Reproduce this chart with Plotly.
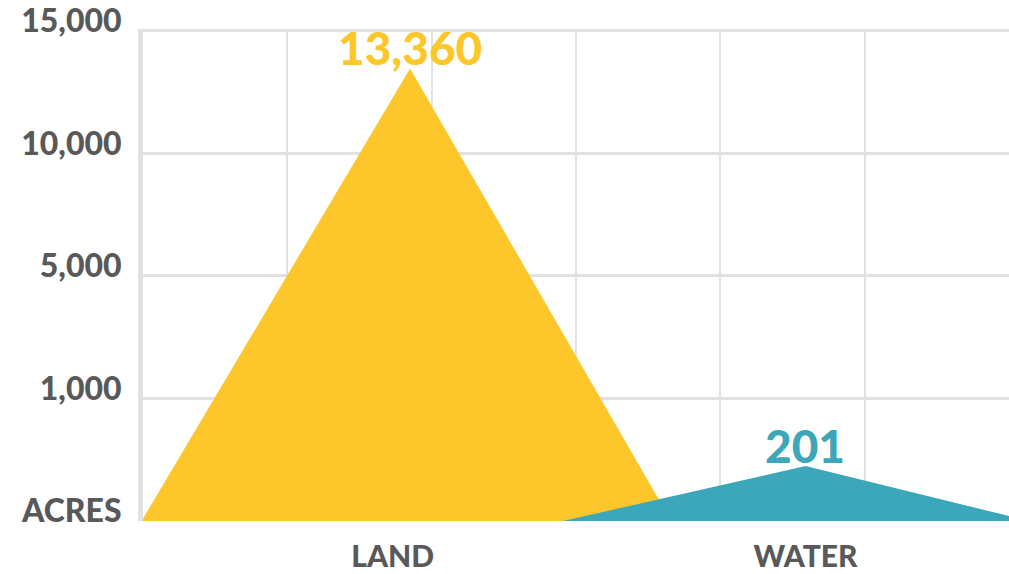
import numpy as np
import plotly.graph_objects as go

# --- data ---
categories = ["LAND", "WATER"]
acres = [13360, 201]
y_tick_values = [0, 1000, 5000, 10000, 15000]
y_tick_labels = ["ACRES", "1,000", "5,000", "10,000", "15,000"]

# --- styling / geometry ---
fill_colors = ["#FDC72B", "#3CA6BA"]
peak_x = [1.85, 4.59]                       # apex position of each triangle (x units)
half_width = [(1.86, 1.81), (1.68, 1.55)]   # (left, right) half-widths
label_x = [1.73, 4.59]                      # category label positions
text_color = "#595959"
grid_color = "#E1E1E1"
FONT = "Lato"

# evenly spaced ticks; between ticks values are interpolated on a square-root scale
_tick_pos = np.arange(len(y_tick_values), dtype=float)
_tick_sqrt = np.sqrt(np.array(y_tick_values, dtype=float))


def to_axis(v):
    return float(np.interp(np.sqrt(v), _tick_sqrt, _tick_pos))


fig = go.Figure()

for name, val, cx, (hl, hr), col in zip(categories, acres, peak_x, half_width, fill_colors):
    top = to_axis(val)
    fig.add_trace(go.Scatter(
        x=[cx - hl, cx, cx + hr, cx - hl],
        y=[0, top, 0, 0],
        mode="lines",
        fill="toself",
        fillcolor=col,
        line=dict(width=0, color=col),
        name=name,
        hoverinfo="skip",
    ))
    fig.add_annotation(
        x=cx, y=top, text=f"{val:,}",
        showarrow=False, yanchor="bottom", yshift=-9,
        font=dict(family=FONT, size=46, color=col, weight=900),
    )

fig.update_layout(
    width=1009, height=574,
    margin=dict(l=143, r=0, t=29, b=53),
    plot_bgcolor="white", paper_bgcolor="white",
    showlegend=False,
)

fig.update_xaxes(
    range=[0, 6],
    automargin=False,
    tickmode="array", tickvals=label_x, ticktext=categories,
    tickfont=dict(family=FONT, size=30, color=text_color, weight=900),
    showgrid=False, zeroline=False, showline=False, ticks="",
    ticklabelstandoff=15,
    minor=dict(tickmode="array", tickvals=[1, 2, 3, 4, 5], showgrid=True,
               gridcolor=grid_color, gridwidth=2, ticks=""),
)

fig.update_yaxes(
    range=[0, len(y_tick_values) - 1 + 0.015],
    automargin=False,
    tickmode="array",
    tickvals=[to_axis(v) for v in y_tick_values],
    ticktext=y_tick_labels,
    tickfont=dict(family=FONT, size=32, color=text_color, weight=900),
    ticklabeloverflow="allow",
    ticklabelstandoff=10,
    ticklabelshift=-10,
    showgrid=True, gridcolor=grid_color, gridwidth=3,
    zeroline=False,
    showline=True, linecolor=grid_color, linewidth=5,
    ticks="",
)

fig.write_html("out.html")
